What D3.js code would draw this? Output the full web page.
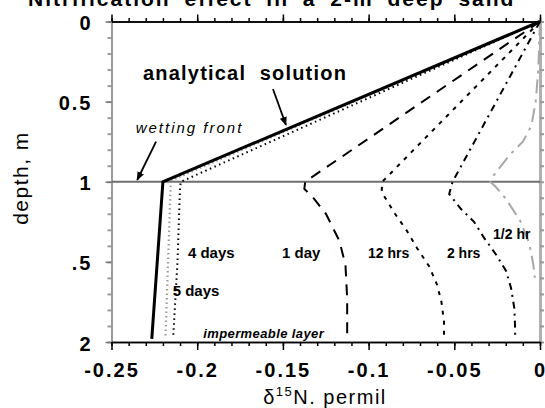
<!DOCTYPE html>
<html>
<head>
<meta charset="utf-8">
<script src="https://cdn.jsdelivr.net/npm/d3@7"></script>
<style>
    body { margin: 0; background: #fff; }
    svg text { font-family: "Liberation Sans", Arial, sans-serif; fill: #000; }
    .tickLabel { font-size: 20px; font-weight: bold; letter-spacing: 2px; }
    .axis path, .axis line { stroke: #000; stroke-width: 1.5px; }
    .grayAxis path, .grayAxis line { stroke: #9a9a9a; stroke-width: 2px; }
    .curveLabel { font-size: 15px; font-weight: bold; }
</style>
</head>
<body>
<script>
(function(){

    //pseudo-global variables
    var seriesNames = ["analytical solution", "5 days", "4 days", "1 day", "12 hrs", "2 hrs", "1/2 hr"]; //list of profiles

    //depth (m) and delta 15N (permil) of each profile
    var analyticalDepth = [0, 1.0, 1.98];
    var analyticalDelta = [0, -0.220, -0.2265];
    var fiveDaysDepth = [0, 1.0, 1.03, 1.5, 1.97];
    var fiveDaysDelta = [0, -0.217, -0.2155, -0.217, -0.2185];
    var fourDaysDepth = [0, 1.0, 1.03, 1.5, 1.97];
    var fourDaysDelta = [0, -0.2095, -0.210, -0.2115, -0.2140];
    var oneDayDepth = [0, 1.0, 1.045, 1.095, 1.2, 1.37, 1.52, 1.73, 1.98];
    var oneDayDelta = [0, -0.137, -0.1375, -0.1327, -0.1249, -0.117, -0.1135, -0.1125, -0.1125];
    var twelveHrsDepth = [0, 1.0, 1.064, 1.2, 1.307, 1.413, 1.526, 1.644, 1.75, 1.875, 1.98];
    var twelveHrsDelta = [0, -0.092, -0.0924, -0.0846, -0.0776, -0.0718, -0.0648, -0.060, -0.0575, -0.056, -0.056];
    var twoHrsDepth = [0, 1.0, 1.076, 1.17, 1.25, 1.349, 1.454, 1.557, 1.663, 1.788, 1.916, 1.98];
    var twoHrsDelta = [0, -0.051, -0.053, -0.0461, -0.0385, -0.0327, -0.0257, -0.0198, -0.0169, -0.0150, -0.0145, -0.0145];
    var halfHrDepth = [0, 0.3, 0.5, 0.65, 0.75, 0.83, 0.96, 1.0, 1.03, 1.1, 1.24, 1.38, 1.51, 1.6];
    var halfHrDelta = [0, -0.001, -0.0025, -0.005, -0.010, -0.0175, -0.027, -0.029, -0.026, -0.0204, -0.0117, -0.0064, -0.004, -0.003];

    var frontDepth = 1; //wetting front / top of impermeable zone

    //tick values and labels
    var xTickValues = [-0.25, -0.2, -0.15, -0.1, -0.05, 0];
    var xTickLabels = ["-0.25", "-0.2", "-0.15", "-0.1", "-0.05", "0"];
    var yTickValues = [0, 0.5, 1, 1.5, 2];
    var yTickLabels = ["0", "0.5", "1", ".5", "2"];

    //chart frame dimensions
    var width = 545,
        height = 408,
        left = 111.5,
        right = 540,
        top = 21.5,
        bottom = 342;

    var x = d3.scaleLinear().domain([-0.25, 0]).range([left, right]);
    var y = d3.scaleLinear().domain([0, 2]).range([top, bottom]);

    //begin script when window loads
    window.onload = function(){
        setChart();
    };

    function setChart(){
        var chart = d3.select("body")
            .append("svg")
            .attr("width", width)
            .attr("height", height);

        //arrow head for the annotations
        chart.append("defs").append("marker")
            .attr("id", "arrow")
            .attr("viewBox", "0 0 10 10")
            .attr("refX", 9)
            .attr("refY", 5)
            .attr("markerWidth", 9)
            .attr("markerHeight", 9)
            .attr("markerUnits", "userSpaceOnUse")
            .attr("orient", "auto")
            .append("path")
            .attr("d", "M0,1 L10,5 L0,9 Z")
            .attr("fill", "#000");

        //title, mostly cut off at the top edge
        chart.append("text")
            .attr("x", 28)
            .attr("y", 6)
            .style("font-size", "21px")
            .style("font-weight", "bold")
            .style("letter-spacing", "2px")
            .style("word-spacing", "6px")
            .text("Nitrification effect in a 2-m deep sand");

        setAxes(chart);

        //wetting front line
        chart.append("line")
            .attr("x1", x(-0.25))
            .attr("x2", x(0))
            .attr("y1", y(frontDepth))
            .attr("y2", y(frontDepth))
            .attr("stroke", "#6e6e6e")
            .attr("stroke-width", 2);

        var line = d3.line()
            .x(function(d){ return x(d[0]); })
            .y(function(d){ return y(d[1]); });

        //one style per profile
        var profiles = [
            {name: seriesNames[6], delta: halfHrDelta, depth: halfHrDepth, color: "#a8a8a8", w: 2, dash: "14,6,3,6"},
            {name: seriesNames[5], delta: twoHrsDelta, depth: twoHrsDepth, color: "#000", w: 2, dash: "7,5,2,5"},
            {name: seriesNames[4], delta: twelveHrsDelta, depth: twelveHrsDepth, color: "#000", w: 2, dash: "4,6"},
            {name: seriesNames[3], delta: oneDayDelta, depth: oneDayDepth, color: "#000", w: 2, dash: "11,8"},
            {name: seriesNames[1], delta: fiveDaysDelta, depth: fiveDaysDepth, color: "#9a9a9a", w: 2.2, dash: "1.5,3"},
            {name: seriesNames[2], delta: fourDaysDelta, depth: fourDaysDepth, color: "#000", w: 2, dash: "1.5,3.5"},
            {name: seriesNames[0], delta: analyticalDelta, depth: analyticalDepth, color: "#000", w: 3, dash: null}
        ];

        chart.selectAll(".profile")
            .data(profiles)
            .enter()
            .append("path")
            .attr("class", "profile")
            .attr("d", function(d){ return line(d3.zip(d.delta, d.depth)); })
            .attr("fill", "none")
            .attr("stroke", function(d){ return d.color; })
            .attr("stroke-width", function(d){ return d.w; })
            .attr("stroke-dasharray", function(d){ return d.dash; });

        setLabels(chart);
    };

    function setAxes(chart){
        var minorX = d3.range(-25, 1).map(function(i){ return i / 100; });
        var minorY = d3.range(0, 21).map(function(i){ return i / 10; });

        //left and right frame (gray in the scan)
        chart.append("g")
            .attr("class", "grayAxis")
            .attr("transform", "translate(" + left + ",0)")
            .call(d3.axisLeft(y).tickValues(minorY).tickSize(4).tickSizeOuter(0).tickFormat(""));
        chart.append("g")
            .attr("class", "grayAxis")
            .attr("transform", "translate(" + right + ",0)")
            .call(d3.axisRight(y).tickValues(minorY).tickSize(4).tickSizeOuter(0).tickFormat(""))
            .select(".domain").style("stroke-width", "3px").style("stroke", "#b0b0b0");

        //left labels
        var yAxis = chart.append("g")
            .attr("class", "axis")
            .attr("transform", "translate(" + left + ",0)")
            .call(d3.axisLeft(y).tickValues(yTickValues).tickSize(6).tickSizeOuter(0).tickPadding(13)
                .tickFormat(function(d, i){ return yTickLabels[i]; }));
        yAxis.select(".domain").remove();
        yAxis.selectAll("line").style("stroke", "#777");
        yAxis.selectAll("text").attr("class", "tickLabel").attr("dy", "0.4em");

        //top axis
        chart.append("g")
            .attr("class", "axis")
            .attr("transform", "translate(0," + top + ")")
            .call(d3.axisTop(x).tickValues(minorX).tickSize(3.5).tickSizeOuter(0).tickFormat(""));
        chart.append("g")
            .attr("class", "axis")
            .attr("transform", "translate(0," + top + ")")
            .call(d3.axisTop(x).tickValues(xTickValues).tickSize(7).tickSizeOuter(0).tickFormat(""));

        //bottom axis
        chart.append("g")
            .attr("class", "axis")
            .attr("transform", "translate(0," + bottom + ")")
            .call(d3.axisBottom(x).tickValues(minorX).tickSize(4).tickSizeOuter(0).tickFormat(""));
        var xAxis = chart.append("g")
            .attr("class", "axis")
            .attr("transform", "translate(0," + bottom + ")")
            .call(d3.axisBottom(x).tickValues(xTickValues).tickSize(8).tickSizeOuter(0).tickPadding(13)
                .tickFormat(function(d, i){ return xTickLabels[i]; }));
        xAxis.selectAll("text").attr("class", "tickLabel");

        //axis titles
        var xTitle = chart.append("text")
            .attr("x", 325)
            .attr("y", 404)
            .attr("text-anchor", "middle")
            .style("font-size", "20px")
            .style("letter-spacing", "1.5px");
        xTitle.append("tspan").text("δ");
        xTitle.append("tspan").attr("dy", -8).style("font-size", "13px").text("15");
        xTitle.append("tspan").attr("dy", 8).text("N. permil");

        chart.append("text")
            .attr("transform", "translate(28,178) rotate(-90)")
            .attr("text-anchor", "middle")
            .style("font-size", "21px")
            .style("letter-spacing", "1.5px")
            .text("depth, m");
    };

    function setLabels(chart){
        chart.append("text")
            .attr("x", x(-0.2316))
            .attr("y", y(0.367))
            .style("font-size", "20px")
            .style("font-weight", "bold")
            .style("letter-spacing", "1.2px")
            .style("white-space", "pre")
            .text("analytical  solution");

        chart.append("text")
            .attr("x", x(-0.2359))
            .attr("y", y(0.696))
            .style("font-size", "15px")
            .style("font-style", "italic")
            .style("letter-spacing", "2px")
            .text("wetting front");

        chart.append("text")
            .attr("x", x(-0.1965))
            .attr("y", y(1.972))
            .style("font-size", "13px")
            .style("font-style", "italic")
            .style("font-weight", "bold")
            .style("letter-spacing", "0.4px")
            .text("impermeable layer");

        //arrows
        chart.append("line")
            .attr("x1", x(-0.1558)).attr("y1", y(0.421))
            .attr("x2", x(-0.1482)).attr("y2", y(0.646))
            .attr("stroke", "#000").attr("stroke-width", 1.8)
            .attr("marker-end", "url(#arrow)");
        chart.append("line")
            .attr("x1", x(-0.2240)).attr("y1", y(0.749))
            .attr("x2", x(-0.2350)).attr("y2", y(0.989))
            .attr("stroke", "#000").attr("stroke-width", 1.8)
            .attr("marker-end", "url(#arrow)");

        //profile labels
        var labelX = [-0.2054, -0.2143, -0.1505, -0.1003, -0.0543, -0.0274];
        var labelY = [1.476, 1.71, 1.476, 1.476, 1.476, 1.357];
        var labelText = [seriesNames[2], seriesNames[1], seriesNames[3], seriesNames[4], seriesNames[5], seriesNames[6]];
        chart.selectAll(".curveLabel")
            .data(labelText)
            .enter()
            .append("text")
            .attr("class", "curveLabel")
            .attr("x", function(d, i){ return x(labelX[i]); })
            .attr("y", function(d, i){ return y(labelY[i]); })
            .style("font-size", function(d){ return d.indexOf("hr") >= 0 ? "14px" : "15px"; })
            .text(function(d){ return d; });
    };

})();
</script>
</body>
</html>
